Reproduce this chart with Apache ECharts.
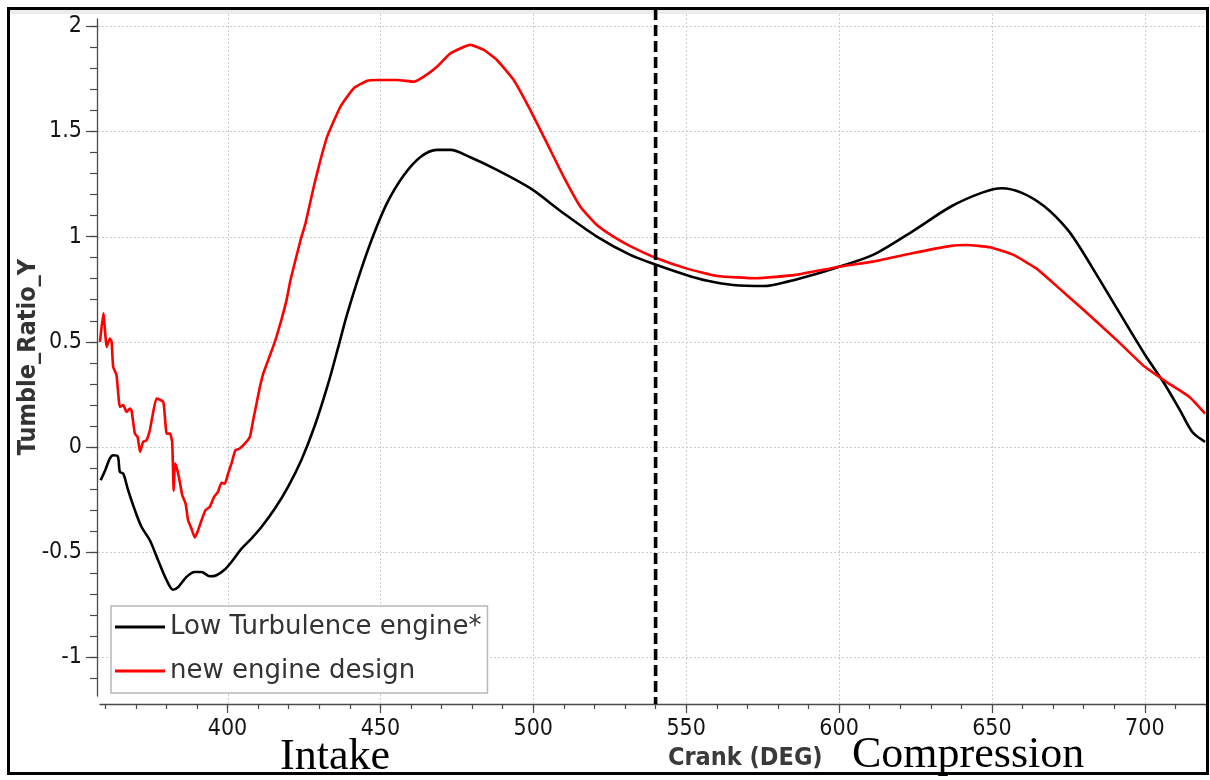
<!DOCTYPE html>
<html>
<head>
<meta charset="utf-8">
<script src="https://cdn.jsdelivr.net/npm/echarts@6/dist/echarts.min.js"></script>
<style>
  html, body { margin: 0; padding: 0; background: #fff; }
  #chart { width: 1210px; height: 780px; }
</style>
</head>
<body>
<div id="chart"></div>
<script>
// Tumble ratio (Y) over crank angle, intake + compression strokes

const lowTurbCrank = [358.5, 360, 361.5, 362.6, 364.1, 364.8, 365.9, 367.5, 369.7, 371.9, 374.6, 377.3,
  380.1, 382.2, 383.9, 386.6, 389.3, 391.5, 394.2, 396.4, 399.1, 401.3, 404.6, 407.8, 411.1, 415.5,
  419.8, 424.2, 428.5, 432.9, 436.5, 439.1, 443.5, 447.8, 452.2, 457.6, 463.1, 468.5, 472.9, 479.4,
  488.1, 499, 509.9, 520.8, 531.7, 540.4, 550, 557, 565.3, 575.5, 583.1, 593.3, 600, 611.1, 623.9,
  636.6, 646.8, 653.2, 659.6, 667.2, 674.8, 680, 685, 690.8, 700, 706, 711.3, 715.6, 719.7];
const lowTurbRatio = [-0.158, -0.11, -0.055, -0.039, -0.044, -0.118, -0.126, -0.205, -0.300, -0.380, -0.443, -0.538,
  -0.633, -0.678, -0.665, -0.617, -0.594, -0.594, -0.614, -0.609, -0.582, -0.546, -0.483, -0.435, -0.380, -0.292,
  -0.189, -0.060, 0.100, 0.300, 0.490, 0.630, 0.835, 1.010, 1.160, 1.290, 1.378, 1.412, 1.412, 1.377,
  1.317, 1.230, 1.111, 1.000, 0.913, 0.865, 0.818, 0.790, 0.770, 0.765, 0.786, 0.826, 0.857, 0.913, 1.024,
  1.143, 1.209, 1.230, 1.209, 1.143, 1.032, 0.920, 0.800, 0.660, 0.440, 0.310, 0.180, 0.070, 0.025];

const newDesignCrank = [358.3, 359.4, 360.5, 361.5, 362.1, 362.6, 363.7, 364.8, 365.9, 367.0, 368.1, 368.6,
  369.7, 370.6, 371.4, 372.4, 373.5, 374.6, 375.4, 376.8, 379.0, 380.1, 381.2, 381.9, 382.4, 382.8,
  383.3, 384.1, 385.2, 386.3, 387.1, 388.2, 389.3, 390.4, 391.5, 392.8, 394.2, 395.6, 396.9, 398.0,
  399.1, 400.2, 401.3, 402.6, 404.0, 405.7, 407.3, 408.4, 409.5, 410.6, 411.7, 413.3, 414.9, 416.0,
  417.6, 419.3, 420.6, 423.9, 425.5, 428.2, 430.4, 432.6, 436.9, 441.3, 445.7, 448.9, 455.5, 460.9,
  464.2, 468.5, 472.9, 479.4, 483.8, 488.1, 493.6, 499, 504.5, 509.9, 515.4, 520.8, 526.2, 531.7,
  540.4, 550, 560.2, 572.9, 585.7, 600, 611.1, 623.9, 636.6, 641.7, 649.4, 657, 664.6, 669.2, 674.8,
  680, 690.8, 700, 707, 714.6, 719.7];
const newDesignRatio = [0.500, 0.635, 0.476, 0.516, 0.500, 0.381, 0.342, 0.191, 0.199, 0.167, 0.183, 0.175,
  0.064, 0.048, -0.023, 0.025, 0.032, 0.080, 0.143, 0.231, 0.215, 0.064, 0.064, 0.025, -0.208, -0.078,
  -0.094, -0.142, -0.229, -0.269, -0.348, -0.387, -0.430, -0.395, -0.348, -0.300, -0.284, -0.237, -0.213, -0.170,
  -0.174, -0.126, -0.078, -0.015, -0.007, 0.017, 0.048, 0.128, 0.207, 0.286, 0.349, 0.413, 0.476, 0.524,
  0.603, 0.698, 0.794, 0.984, 1.063, 1.237, 1.364, 1.475, 1.617, 1.705, 1.741, 1.744, 1.744, 1.736,
  1.760, 1.807, 1.871, 1.911, 1.887, 1.839, 1.744, 1.602, 1.443, 1.285, 1.142, 1.055, 1.000, 0.955,
  0.897, 0.849, 0.813, 0.802, 0.818, 0.857, 0.881, 0.921, 0.956, 0.960, 0.949, 0.913, 0.848, 0.790, 0.718,
  0.651, 0.508, 0.381, 0.310, 0.238, 0.159];

const seriesNames = ['Low Turbulence engine*', 'new engine design'];
const seriesColors = ['#000000', '#ff0000'];

// axis ticks and labels
const xMajorTicks = [400, 450, 500, 550, 600, 650, 700];
const xMinorTicks = [360, 370, 380, 390, 400, 410, 420, 430, 440, 450, 460, 470, 480, 490, 500, 510, 520,
  530, 540, 550, 560, 570, 580, 590, 600, 610, 620, 630, 640, 650, 660, 670, 680, 690, 700, 710, 720];
const yMajorTicks = [-1, -0.5, 0, 0.5, 1, 1.5, 2];
const yMinorTicks = [-1.1, -1, -0.9, -0.8, -0.7, -0.6, -0.5, -0.4, -0.3, -0.2, -0.1, 0, 0.1, 0.2, 0.3, 0.4,
  0.5, 0.6, 0.7, 0.8, 0.9, 1, 1.1, 1.2, 1.3, 1.4, 1.5, 1.6, 1.7, 1.8, 1.9, 2];

const strokeBoundary = 540; // intake / compression split (crank deg)

const X_MIN = 358.3, X_MAX = 720, Y_MIN = -1.183, Y_MAX = 2.034;

const tickFont = '"DejaVu Sans Condensed", "DejaVu Sans", sans-serif';
const axisGray = '#4a4a4a';

const chart = echarts.init(document.getElementById('chart'), null, { renderer: 'canvas' });

function baseX(extra) {
  return Object.assign({
    type: 'value', min: X_MIN, max: X_MAX, position: 'bottom', offset: 8,
    splitLine: { show: false }
  }, extra);
}
function baseY(extra) {
  return Object.assign({
    type: 'value', min: Y_MIN, max: Y_MAX, position: 'left', offset: 3,
    splitLine: { show: false }
  }, extra);
}

chart.setOption({
  animation: false,
  backgroundColor: '#ffffff',
  grid: { left: 100, right: 4, top: 19, bottom: 84, containLabel: false },
  xAxis: [
    baseX({
      axisLine: { show: true, onZero: false, lineStyle: { color: axisGray, width: 1.3 } },
      axisTick: { show: true, length: 5, customValues: xMinorTicks, lineStyle: { color: axisGray, width: 1.2 } },
      axisLabel: { show: true, customValues: xMajorTicks, margin: 14, fontFamily: tickFont, fontSize: 23, color: '#151515' }
    }),
    baseX({
      axisLine: { show: false, onZero: false },
      axisTick: { show: true, length: 9, customValues: xMajorTicks, lineStyle: { color: axisGray, width: 1.2 } },
      axisLabel: { show: false }
    })
  ],
  yAxis: [
    baseY({
      axisLine: { show: true, onZero: false, lineStyle: { color: axisGray, width: 1.3 } },
      axisTick: { show: true, length: 7, customValues: yMinorTicks, lineStyle: { color: axisGray, width: 1.2 } },
      axisLabel: { show: true, customValues: yMajorTicks, margin: 15, fontFamily: tickFont, fontSize: 23, color: '#151515' }
    }),
    baseY({
      axisLine: { show: false, onZero: false },
      axisTick: { show: true, length: 11, customValues: yMajorTicks, lineStyle: { color: axisGray, width: 1.2 } },
      axisLabel: { show: false }
    })
  ],
  legend: {
    orient: 'vertical', left: 111, top: 606,
    padding: [6, 6, 7, 4],
    icon: 'rect', itemWidth: 50, itemHeight: 3, itemGap: 14,
    backgroundColor: '#ffffff', borderColor: '#b8b8b8', borderWidth: 1.5, borderRadius: 0,
    textStyle: { fontFamily: '"DejaVu Sans", sans-serif', fontSize: 26, color: '#333333', lineHeight: 30 },
    data: seriesNames
  },
  series: [
    {
      name: seriesNames[0], type: 'line', xAxisIndex: 0, yAxisIndex: 0,
      data: lowTurbCrank.map((c, i) => [c, lowTurbRatio[i]]),
      showSymbol: false, symbol: 'none', smooth: 0.3,
      lineStyle: { color: seriesColors[0], width: 2.6 }, itemStyle: { color: seriesColors[0] }, z: 3
    },
    {
      name: seriesNames[1], type: 'line', xAxisIndex: 0, yAxisIndex: 0,
      data: newDesignCrank.map((c, i) => [c, newDesignRatio[i]]),
      showSymbol: false, symbol: 'none', smooth: 0.15,
      lineStyle: { color: seriesColors[1], width: 2.6 }, itemStyle: { color: seriesColors[1] }, z: 4
    }
  ]
});

// reference lines placed through the axes' own scales
const px = v => chart.convertToPixel({ xAxisIndex: 0 }, v);
const py = v => chart.convertToPixel({ yAxisIndex: 0 }, v);
const canvasLeft = 97, canvasRight = 1206, canvasTop = 14, canvasBottom = 704;

const gridStyle = { stroke: '#cdcdcd', lineWidth: 1, lineDash: [2, 2] };
const graphics = [];

graphics.push({ type: 'rect', z: 0, silent: true,
  shape: { x: 9, y: 9, width: 1197, height: 5 }, style: { fill: '#ececec' } });

xMajorTicks.forEach(v => {
  const x = Math.round(px(v)) + 0.5;
  graphics.push({ type: 'line', z: 0, silent: true,
    shape: { x1: x, y1: canvasTop, x2: x, y2: canvasBottom - 1 }, style: gridStyle });
});
yMajorTicks.forEach(v => {
  const y = Math.round(py(v)) + 0.5;
  graphics.push({ type: 'line', z: 0, silent: true,
    shape: { x1: canvasLeft + 1, y1: y, x2: canvasRight, y2: y }, style: gridStyle });
});

const bx = px(strokeBoundary);
graphics.push({ type: 'line', z: 50, silent: true,
  shape: { x1: bx, y1: 9, x2: bx, y2: canvasBottom },
  style: { stroke: '#000', lineWidth: 3.6, lineDash: [11, 5] } });

// frame
graphics.push({ type: 'rect', z: 60, silent: true,
  shape: { x: 8.5, y: 8.5, width: 1199, height: 765 },
  style: { fill: null, stroke: '#000', lineWidth: 3 } });

// axis titles and stroke annotations
graphics.push({ type: 'text', z: 70, silent: true, x: 28, y: 357, rotation: Math.PI / 2,
  style: { text: 'Tumble_Ratio_Y', font: 'bold 25px "DejaVu Sans Condensed", "DejaVu Sans", sans-serif',
    fill: '#333333', align: 'center', verticalAlign: 'middle' } });
graphics.push({ type: 'text', z: 70, silent: true, x: 668, y: 758,
  style: { text: 'Crank (DEG)', font: 'bold 25px "DejaVu Sans Condensed", "DejaVu Sans", sans-serif',
    fill: '#3a3a3a', align: 'left', verticalAlign: 'middle' } });
graphics.push({ type: 'text', z: 70, silent: true, x: 280, y: 757,
  style: { text: 'Intake', font: '44px "Liberation Serif", "Times New Roman", serif',
    fill: '#000', align: 'left', verticalAlign: 'middle' } });
graphics.push({ type: 'text', z: 70, silent: true, x: 852, y: 755,
  style: { text: 'Compression', font: '44px "Liberation Serif", "Times New Roman", serif',
    fill: '#000', align: 'left', verticalAlign: 'middle' } });

chart.setOption({ graphic: graphics });
</script>
</body>
</html>
